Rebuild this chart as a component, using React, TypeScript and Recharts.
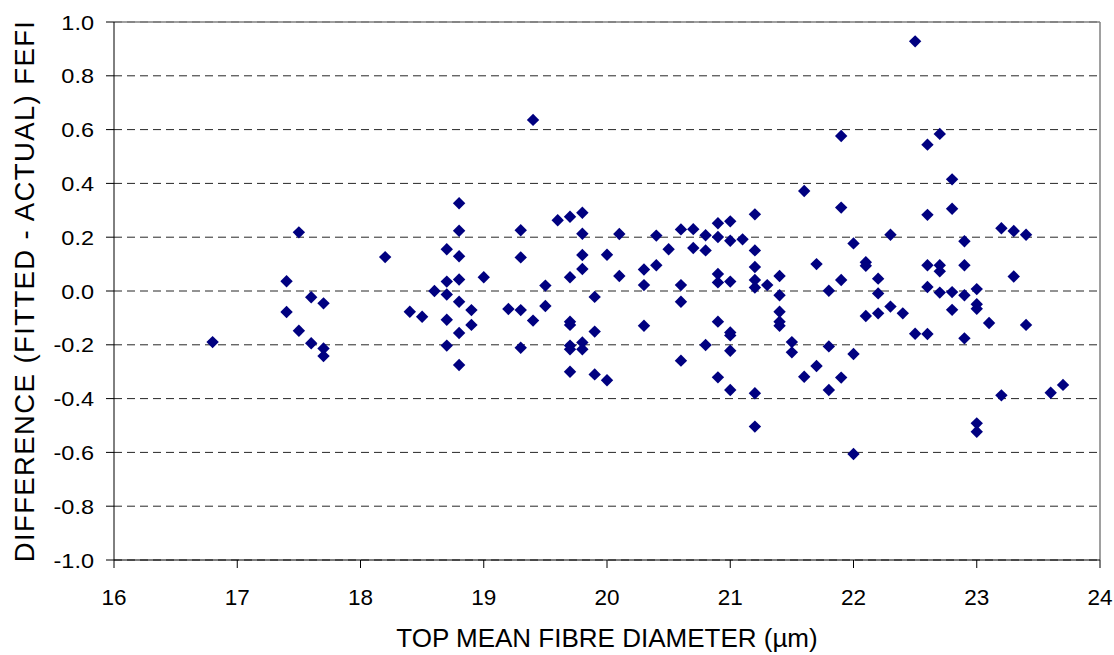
import { ScatterChart, Scatter, XAxis, YAxis, CartesianGrid, ReferenceLine } from 'recharts';

// Top mean fibre diameter (µm) for each point
const diameters = [
  16.8,
  17.4, 17.4,
  17.5, 17.5,
  17.6, 17.6,
  17.7, 17.7, 17.7,
  18.2, 18.4, 18.5, 18.6,
  18.7, 18.7, 18.7, 18.7, 18.7,
  18.8, 18.8, 18.8, 18.8, 18.8, 18.8, 18.8,
  18.9, 18.9,
  19.0, 19.2,
  19.3, 19.3, 19.3, 19.3,
  19.4, 19.4,
  19.5, 19.5,
  19.6,
  19.7, 19.7, 19.7, 19.7, 19.7, 19.7, 19.7,
  19.8, 19.8, 19.8, 19.8, 19.8, 19.8,
  19.9, 19.9, 19.9,
  20.0, 20.0,
  20.1, 20.1,
  20.3, 20.3, 20.3,
  20.4, 20.4,
  20.5,
  20.6, 20.6, 20.6, 20.6,
  20.7, 20.7,
  20.8, 20.8, 20.8,
  20.9, 20.9, 20.9, 20.9, 20.9, 20.9,
  21.0, 21.0, 21.0, 21.0, 21.0, 21.0, 21.0,
  21.1,
  21.2, 21.2, 21.2, 21.2, 21.2, 21.2, 21.2,
  21.3,
  21.4, 21.4, 21.4, 21.4, 21.4,
  21.5, 21.5,
  21.6, 21.6,
  21.7, 21.7,
  21.8, 21.8, 21.8,
  21.9, 21.9, 21.9, 21.9,
  22.0, 22.0, 22.0,
  22.1, 22.1, 22.1,
  22.2, 22.2, 22.2,
  22.3, 22.3,
  22.4,
  22.5, 22.5,
  22.6, 22.6, 22.6, 22.6, 22.6,
  22.7, 22.7, 22.7, 22.7,
  22.8, 22.8, 22.8, 22.8,
  22.9, 22.9, 22.9, 22.9,
  23.0, 23.0, 23.0, 23.0, 23.0,
  23.1,
  23.2, 23.2,
  23.3, 23.3,
  23.4, 23.4,
  23.6, 23.7,
];

// Difference (fitted - actual) FEFI, same order as diameters
const differences = [
  -0.19,
  0.036, -0.078,
  0.218, -0.148,
  -0.023, -0.194,
  -0.046, -0.214, -0.242,
  0.126, -0.077, -0.096, 0.0,
  0.155, 0.035, -0.013, -0.107, -0.203,
  0.326, 0.224, 0.129, 0.043, -0.04, -0.156, -0.275,
  -0.071, -0.126,
  0.051, -0.067,
  0.226, 0.125, -0.071, -0.211,
  0.636, -0.11,
  0.02, -0.056,
  0.263,
  0.276, 0.051, -0.114, -0.126, -0.203, -0.217, -0.3,
  0.291, 0.213, 0.134, 0.082, -0.191, -0.217,
  -0.022, -0.151, -0.31,
  0.135, -0.332,
  0.212, 0.056,
  0.08, 0.022, -0.129,
  0.206, 0.096,
  0.155,
  0.229, 0.022, -0.04, -0.259,
  0.23, 0.16,
  0.207, 0.151, -0.201,
  0.252, 0.201, 0.063, 0.032, -0.114, -0.321,
  0.259, 0.187, 0.035, -0.154, -0.165, -0.222, -0.368,
  0.192,
  0.285, 0.151, 0.089, 0.041, 0.013, -0.38, -0.504,
  0.022,
  0.056, -0.016, -0.077, -0.114, -0.129,
  -0.19, -0.228,
  0.372, -0.319,
  0.1, -0.279,
  0.001, -0.206, -0.368,
  0.576, 0.31, 0.041, -0.322,
  0.177, -0.234, -0.606,
  0.107, 0.094, -0.093,
  0.046, -0.009, -0.083,
  0.209, -0.058,
  -0.083,
  0.928, -0.159,
  0.544, 0.283, 0.096, 0.015, -0.16,
  0.584, 0.096, 0.073, -0.006,
  0.415, 0.306, -0.004, -0.07,
  0.185, 0.096, -0.016, -0.176,
  0.007, -0.049, -0.066, -0.492, -0.523,
  -0.119,
  0.233, -0.388,
  0.223, 0.054,
  0.209, -0.126,
  -0.378, -0.349,
];

const xTicks = [16, 17, 18, 19, 20, 21, 22, 23, 24];
const yTicks = [-1, -0.8, -0.6, -0.4, -0.2, 0, 0.2, 0.4, 0.6, 0.8, 1];

const points = diameters.map((d, i) => ({ x: d, y: differences[i] }));

const FONT = '"Liberation Sans", Arial, sans-serif';

const Diamond = (props: any) => {
  const { cx, cy } = props;
  const r = 6.2;
  return (
    <polygon
      points={`${cx},${cy - r} ${cx + r},${cy} ${cx},${cy + r} ${cx - r},${cy}`}
      fill="#000080"
    />
  );
};

// y tick labels in the original are a little wider than they are tall
const YTick = (props: any) => {
  const { x, y, payload } = props;
  return (
    <g transform={`translate(${x},${y})`}>
      <text
        transform="scale(1.12,1)"
        textAnchor="end"
        dy="0.36em"
        fontSize={21}
        fontFamily={FONT}
        fill="#000"
      >
        {Number(payload.value).toFixed(1)}
      </text>
    </g>
  );
};

export default function App() {
  return (
    <div style={{ position: 'absolute', left: 0, top: 0, background: '#fff' }}>
      <ScatterChart
        width={1114}
        height={655}
        margin={{ top: 22, right: 14, bottom: 5, left: 0 }}
        style={{ fontFamily: FONT }}
      >
        <CartesianGrid
          vertical={false}
          stroke="#000"
          strokeDasharray="8 5"
          strokeOpacity={0.85}
        />
        <XAxis
          type="number"
          dataKey="x"
          domain={[16, 24]}
          ticks={xTicks}
          interval={0}
          height={90}
          stroke="#000"
          tickSize={8}
          tickMargin={21}
          tick={{ fill: '#000', fontSize: 22.5, fontFamily: FONT }}
          label={{
            value: 'TOP MEAN FIBRE DIAMETER (µm)',
            position: 'insideBottom',
            offset: 3,
            style: { fill: '#000', fontSize: 26, fontFamily: FONT },
          }}
        />
        <YAxis
          type="number"
          dataKey="y"
          domain={[-1, 1]}
          ticks={yTicks}
          interval={0}
          width={114}
          stroke="#000"
          tickSize={8}
          tickMargin={12}
          tick={<YTick />}
          label={{
            value: 'DIFFERENCE (FITTED - ACTUAL) FEFI',
            angle: -90,
            position: 'insideLeft',
            offset: 24,
            style: {
              fill: '#000',
              fontSize: 27.5,
              letterSpacing: 1.4,
              fontFamily: FONT,
              textAnchor: 'middle',
            },
          }}
        />
        <ReferenceLine y={1} stroke="#808080" strokeWidth={1.5} />
        <ReferenceLine x={24} stroke="#808080" strokeWidth={1.5} />
        <Scatter data={points} shape={Diamond} isAnimationActive={false} />
      </ScatterChart>
    </div>
  );
}
